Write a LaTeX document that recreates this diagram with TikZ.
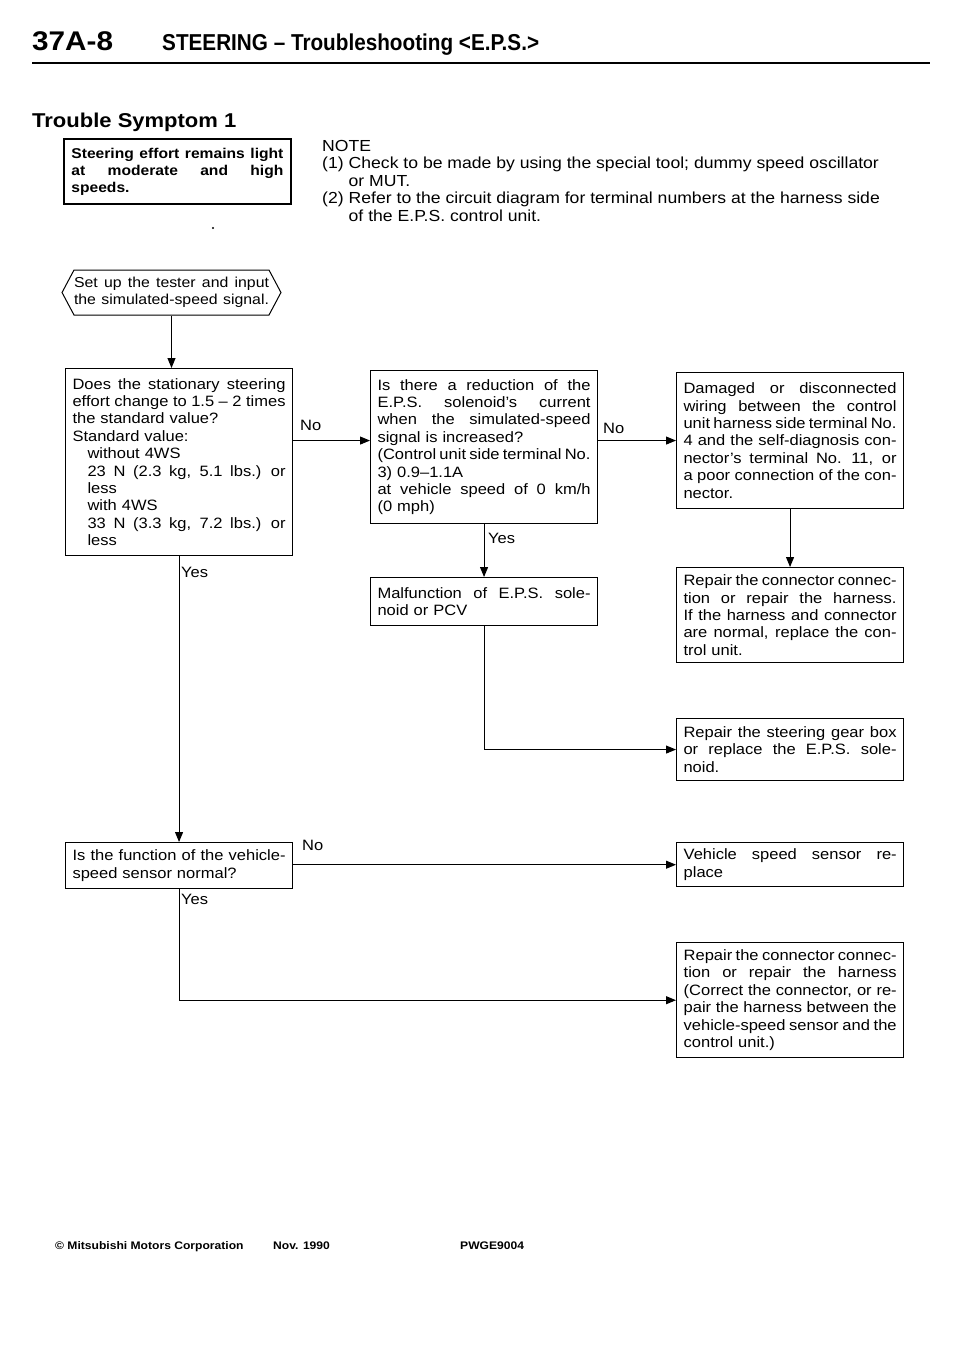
\documentclass[tikz,border=0pt]{standalone}
\usepackage{fontspec}
\setmainfont{Liberation Sans}[FakeStretch=1.1]
\newfontfamily\headfont[FakeStretch=0.9]{Liberation Sans}
\usetikzlibrary{arrows.meta,shapes.symbols,calc}
\setlength{\parindent}{0pt}
% one justified line of a box, spread over the given width
\newcommand\fullline[2][213pt]{\makebox[#1][s]{\spaceskip=0.28em plus 1fil minus 0.13em\xspaceskip=0.4em plus 1fil minus 0.15em\relax#2}}
\newcommand\indline[1]{\hspace*{15pt}\fullline[198pt]{#1}}
\tikzset{
  basebox/.style={rectangle,draw=black,line width=1.1pt,align=left,anchor=north west,
    inner xsep=7pt,inner ysep=0pt,font=\fontsize{15}{17.4}\selectfont},
  stepbox/.style={basebox,text width=213pt,minimum width=227pt},
  boldbox/.style={basebox,line width=1.8pt,text width=212pt,minimum width=227pt,
    font=\fontsize{14.2}{17}\selectfont\bfseries},
  startnode/.style={shape=signal,signal to=west and east,signal pointer angle=124,
    draw=black,line width=1pt,align=left,text width=195pt,inner xsep=0pt,inner ysep=0pt,
    minimum height=45pt,font=\fontsize{14.4}{17.4}\selectfont},
  arr/.style={-{Triangle[length=10pt,width=8pt]},line width=1pt},
  lbl/.style={anchor=west,inner sep=0pt,font=\fontsize{15}{17}\selectfont},
  headtxt/.style={anchor=base west,inner sep=0pt},
  foottxt/.style={headtxt,font=\fontsize{11}{11}\selectfont\bfseries}
}

\begin{document}
\begin{tikzpicture}[x=1pt,y=-1pt]
  \useasboundingbox (0,0) rectangle (960,1358);

  % page header
  \node[headtxt] (pagenum) at (32,50) {\fontsize{27}{27}\selectfont\bfseries 37A-8};
  \node[headtxt] (title) at (162,50)
      {\headfont\fontsize{23}{23}\selectfont\bfseries STEERING – Troubleshooting <E.P.S.>};
  \draw[line width=2.5pt] (32,63) -- (930,63);
  \node[headtxt] (symptitle) at (32,127) {\fontsize{20}{20}\selectfont\bfseries Trouble Symptom 1};

  % symptom and note
  \node[boldbox,minimum height=65pt] (sym) at (63,138)
      {\fullline[212pt]{Steering effort remains light}\\\fullline[212pt]{at moderate and high}\\speeds.};
  \fill (213,228) circle (1.1pt);
  \node[anchor=north west,inner sep=0pt,align=left,font=\fontsize{16}{17.5}\selectfont] (note) at (322,139)
      {\begin{tabular}{@{}l@{\hspace{5pt}}l@{}}
        \multicolumn{2}{@{}l}{NOTE}\\
        (1) & Check to be made by using the special tool; dummy speed oscillator\\
            & or MUT.\\
        (2) & Refer to the circuit diagram for terminal numbers at the harness side\\
            & of the E.P.S. control unit.
      \end{tabular}};

  % flow
  \node[startnode] (start) at (171.5,292.5)
      {\fullline[195pt]{Set up the tester and input}\\\fullline[195pt]{the simulated-speed signal.}};

  \node[stepbox,minimum height=187pt] (q1) at (65,368)
      {\fullline{Does the stationary steering}\\
       \fullline{effort change to 1.5 – 2 times}\\
       the standard value?\\
       Standard value:\\
       \hspace*{15pt}without 4WS\\
       \indline{23 N (2.3 kg, 5.1 lbs.) or}\\
       \hspace*{15pt}less\\
       \hspace*{15pt}with 4WS\\
       \indline{33 N (3.3 kg, 7.2 lbs.) or}\\
       \hspace*{15pt}less};
  \node[stepbox,minimum height=153pt] (q2) at (370,370)
      {\fullline{Is there a reduction of the}\\
       \fullline{E.P.S. solenoid’s current}\\
       \fullline{when the simulated-speed}\\
       signal is increased?\\
       \fullline{(Control unit side terminal No.}\\
       3) 0.9–1.1A\\
       \fullline{at vehicle speed of 0 km/h}\\
       (0 mph)};
  \node[stepbox,minimum height=136pt] (r1) at (676,372)
      {\fullline{Damaged or disconnected}\\
       \fullline{wiring between the control}\\
       \fullline{unit harness side terminal No.}\\
       \fullline{4 and the self-diagnosis con-}\\
       \fullline{nector’s terminal No. 11, or}\\
       \fullline{a poor connection of the con-}\\
       nector.};
  \node[stepbox,minimum height=95pt] (r2) at (676,567)
      {\fullline{Repair the connector connec-}\\
       \fullline{tion or repair the harness.}\\
       \fullline{If the harness and connector}\\
       \fullline{are normal, replace the con-}\\
       trol unit.};
  \node[stepbox,minimum height=48pt] (m1) at (370,577)
      {\fullline{Malfunction of E.P.S. sole-}\\noid or PCV};
  \node[stepbox,minimum height=62pt] (r3) at (676,718)
      {\fullline{Repair the steering gear box}\\
       \fullline{or replace the E.P.S. sole-}\\
       noid.};
  \node[stepbox,minimum height=46pt] (q3) at (65,842)
      {\fullline{Is the function of the vehicle-}\\speed sensor normal?};
  \node[stepbox,minimum height=44pt,line width=1.4pt] (r4) at (676,842)
      {\fullline{Vehicle speed sensor re-}\\place};
  \node[stepbox,minimum height=115pt,line width=1.4pt] (r5) at (676,942)
      {\fullline{Repair the connector connec-}\\
       \fullline{tion or repair the harness}\\
       \fullline{(Correct the connector, or re-}\\
       \fullline{pair the harness between the}\\
       \fullline{vehicle-speed sensor and the}\\
       control unit.)};

  % labels
  \node[lbl] (no1) at (300,425) {No};
  \node[lbl] (no2) at (603,428) {No};
  \node[lbl] (yes1) at (181,572) {Yes};
  \node[lbl] (yes2) at (488,538) {Yes};
  \node[lbl] (no3) at (302,845) {No};
  \node[lbl] (yes3) at (181,899) {Yes};

  % connectors
  \draw[arr] (start.south) -- (start.south |- q1.north);
  \draw[arr] (q1.east |- r1.west) -- (q2.west |- r1.west);
  \draw[arr] (q2.east |- r1.west) -- (r1.west);
  \draw[arr] (r1.south) -- (r2.north);
  \draw[arr] (q2.south) -- (m1.north);
  \draw[arr] (m1.south) |- (r3.west);
  \draw[arr] (q1.south) -- (q3.north);
  \draw[arr] (q3.east |- r4.west) -- (r4.west);
  \draw[arr] (q3.south) |- (r5.west);

  % footer
  \node[foottxt] (copy) at (55,1249) {© Mitsubishi Motors Corporation};
  \node[foottxt] (date) at (273,1249) {Nov. 1990};
  \node[foottxt] (code) at (460,1249) {PWGE9004};
\end{tikzpicture}
\end{document}
